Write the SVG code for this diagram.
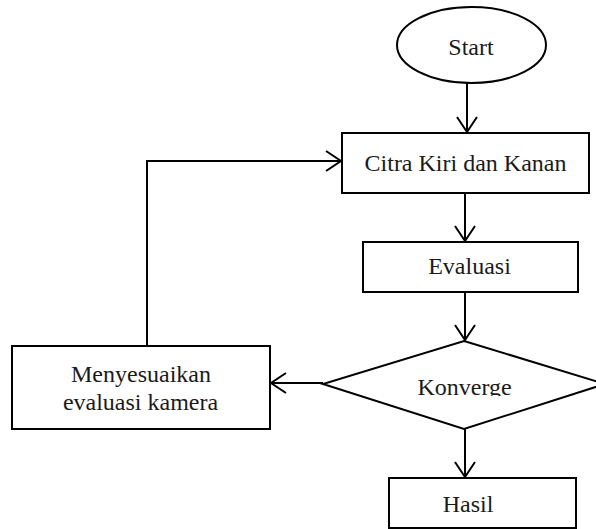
<svg xmlns="http://www.w3.org/2000/svg" width="596" height="529" viewBox="0 0 596 529">
<style>
.n{fill:#fff;stroke:#000;stroke-width:2}
.t{font-family:"Liberation Serif","Times New Roman",serif;font-size:24px;fill:#1a1a1a;text-anchor:middle}
.c{fill:none;stroke:#000;stroke-width:2}
</style>
<defs>
<marker id="a" markerUnits="userSpaceOnUse" markerWidth="22" markerHeight="24" refX="16" refY="11" orient="auto" viewBox="0 0 22 22">
<path d="M1,1 L16,11 L1,21" fill="none" stroke="#000" stroke-width="2"/>
</marker>
<clipPath id="kc"><rect x="300" y="330" width="300" height="66"/></clipPath>
</defs>
<rect width="596" height="529" fill="#fff"/>
<g id="connectors">
<line class="c" x1="467" y1="83" x2="467" y2="132" marker-end="url(#a)"/>
<line class="c" x1="465" y1="193" x2="465" y2="241" marker-end="url(#a)"/>
<line class="c" x1="465" y1="292" x2="465" y2="340" marker-end="url(#a)"/>
<line class="c" x1="465" y1="429" x2="465" y2="477" marker-end="url(#a)"/>
<line class="c" x1="323" y1="383" x2="271" y2="383" marker-end="url(#a)"/>
<polyline class="c" points="147,346 147,161 341,161" marker-end="url(#a)"/>
</g>
<g id="start">
<ellipse class="n" cx="471.5" cy="45" rx="74.5" ry="38"/>
<text class="t" x="471" y="55">Start</text>
</g>
<g id="citra">
<rect class="n" x="342" y="133" width="247" height="60"/>
<text class="t" x="465.5" y="171">Citra Kiri dan Kanan</text>
</g>
<g id="evaluasi">
<rect class="n" x="363" y="242" width="215" height="50"/>
<text class="t" x="469.5" y="274">Evaluasi</text>
</g>
<g id="konverge">
<polygon class="n" points="464,341 605,384 464,429 323,384"/>
<text class="t" x="464.5" y="395" clip-path="url(#kc)">Konverge</text>
</g>
<g id="menyesuaikan">
<rect class="n" x="12" y="346" width="258" height="83"/>
<text class="t" x="141" y="382">Menyesuaikan</text>
<text class="t" x="140.5" y="410">evaluasi kamera</text>
</g>
<g id="hasil">
<rect class="n" x="389" y="478" width="187" height="50"/>
<text class="t" x="468" y="512">Hasil</text>
</g>
</svg>
